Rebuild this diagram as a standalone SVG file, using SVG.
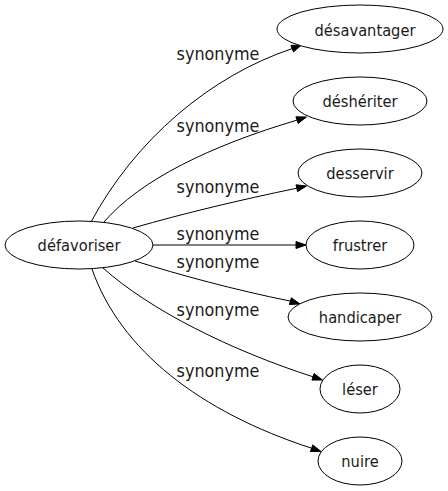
<svg xmlns="http://www.w3.org/2000/svg" width="448" height="491" viewBox="0 0 448 491">
<style>
.n ellipse{fill:#fff;stroke:#000;stroke-width:1}
text{font-family:"DejaVu Sans Condensed","DejaVu Sans",sans-serif;font-stretch:condensed;fill:#1a1a1a;text-anchor:middle}
.n text{font-size:16.3px}
.e text{font-size:17.8px}
.e path{fill:none;stroke:#000;stroke-width:1}
.e polygon{fill:#000;stroke:#000;stroke-width:1}
</style>
<rect width="448" height="491" fill="#fff"/>
<g id="edges" class="e">
<path d="M91,222 C135,140 210,76 292.2,48.6"/>
<polygon points="301.5,45 293.5,51.9 290.9,45.4"/>
<text x="218" y="60">synonyme</text>
<path d="M104,222 C140,180 210,146 297,120.1"/>
<polygon points="306.5,117 298.1,123.4 295.9,116.8"/>
<text x="218" y="132">synonyme</text>
<path d="M133,228 C185,213 240,200 296.8,188.2"/>
<polygon points="306.5,186 297.6,191.6 296,184.8"/>
<text x="218" y="193">synonyme</text>
<path d="M153,245 L296,245"/>
<polygon points="306,245 296,248.5 296,241.5"/>
<text x="218" y="240">synonyme</text>
<path d="M135,261 C180,275 235,290 290.4,301.1"/>
<polygon points="300,304 289.4,304.5 291.4,297.8"/>
<text x="218" y="268">synonyme</text>
<path d="M103,268 C150,310 230,350 313,376.8"/>
<polygon points="322.5,380 311.9,380.1 314.1,373.5"/>
<text x="218" y="316">synonyme</text>
<path d="M92,269 C120,350 200,412 311.6,448.2"/>
<polygon points="321,451.5 310.4,451.5 312.8,444.9"/>
<text x="218" y="377">synonyme</text>
</g>
<g id="node-defavoriser" class="n"><ellipse cx="79" cy="245" rx="74" ry="24"/><text x="79" y="251">défavoriser</text></g>
<g id="node-desavantager" class="n"><ellipse cx="360" cy="29" rx="83" ry="24"/><text x="365" y="36">désavantager</text></g>
<g id="node-desheriter" class="n"><ellipse cx="360" cy="101" rx="67" ry="24"/><text x="360" y="107">déshériter</text></g>
<g id="node-desservir" class="n"><ellipse cx="360" cy="173" rx="62" ry="24"/><text x="360" y="179">desservir</text></g>
<g id="node-frustrer" class="n"><ellipse cx="360" cy="245" rx="54" ry="24"/><text x="360" y="251">frustrer</text></g>
<g id="node-handicaper" class="n"><ellipse cx="360" cy="317" rx="72" ry="24"/><text x="360" y="323">handicaper</text></g>
<g id="node-leser" class="n"><ellipse cx="360" cy="389" rx="40" ry="24"/><text x="360" y="395">léser</text></g>
<g id="node-nuire" class="n"><ellipse cx="360" cy="461" rx="42" ry="24"/><text x="360" y="467">nuire</text></g>
</svg>
